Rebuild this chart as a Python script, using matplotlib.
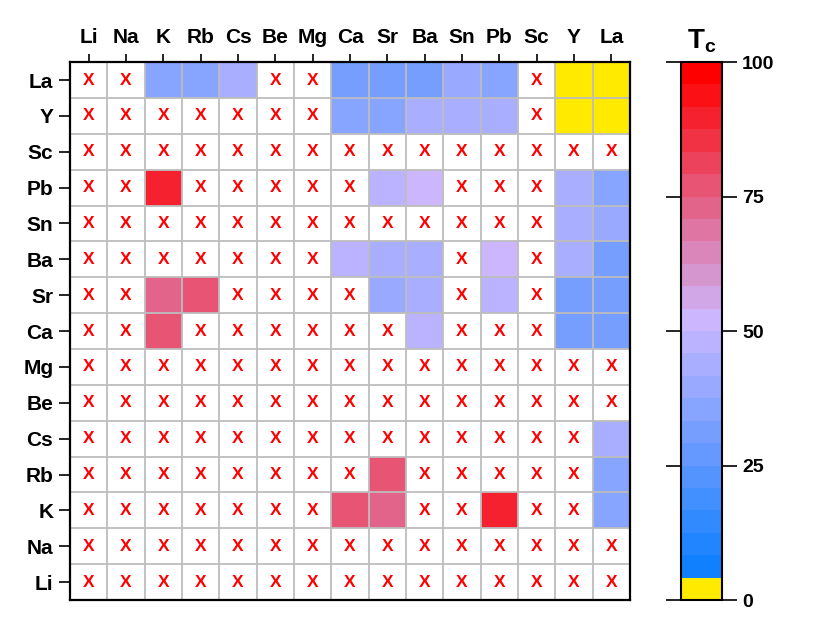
import numpy as np
import matplotlib
matplotlib.use("Agg")
import matplotlib.pyplot as plt
from matplotlib.colors import LinearSegmentedColormap, ListedColormap, BoundaryNorm

plt.rcParams['font.family'] = ['Liberation Sans', 'DejaVu Sans']
plt.rcParams['mathtext.fontset'] = 'custom'
plt.rcParams['mathtext.rm'] = 'Liberation Sans'
plt.rcParams['mathtext.bf'] = 'Liberation Sans:bold'

elements = ['Li', 'Na', 'K', 'Rb', 'Cs', 'Be', 'Mg', 'Ca', 'Sr', 'Ba',
            'Sn', 'Pb', 'Sc', 'Y', 'La']

n = np.nan
# Tc values, rows listed top (La) to bottom (Li), columns Li..La; nan = no data (X)
tc_rows = {
    'La': [n, n, 35, 35, 44, n, n, 31, 31, 31, 40, 35, n, 2, 2],
    'Y':  [n, n, n, n, n, n, n, 35, 35, 44, 44, 44, n, 2, 2],
    'Sc': [n, n, n, n, n, n, n, n, n, n, n, n, n, n, n],
    'Pb': [n, n, 89, n, n, n, n, n, 48, 52, n, n, n, 44, 35],
    'Sn': [n, n, n, n, n, n, n, n, n, n, n, n, n, 44, 40],
    'Ba': [n, n, n, n, n, n, n, 48, 44, 44, n, 52, n, 44, 31],
    'Sr': [n, n, 73, 77, n, n, n, n, 40, 44, n, 48, n, 31, 31],
    'Ca': [n, n, 77, n, n, n, n, n, n, 48, n, n, n, 31, 31],
    'Mg': [n, n, n, n, n, n, n, n, n, n, n, n, n, n, n],
    'Be': [n, n, n, n, n, n, n, n, n, n, n, n, n, n, n],
    'Cs': [n, n, n, n, n, n, n, n, n, n, n, n, n, n, 44],
    'Rb': [n, n, n, n, n, n, n, n, 77, n, n, n, n, n, 35],
    'K':  [n, n, n, n, n, n, n, 77, 73, n, n, 89, n, n, 35],
    'Na': [n, n, n, n, n, n, n, n, n, n, n, n, n, n, n],
    'Li': [n, n, n, n, n, n, n, n, n, n, n, n, n, n, n],
}
cbar_ticks = [0, 25, 50, 75, 100]

# grid: row index 0 = Li (bottom)
Z = np.array([tc_rows[e] for e in elements])

# 24 discrete levels: yellow for the lowest, then blue -> lavender -> red
base = LinearSegmentedColormap.from_list('tc', ['#1080ff', '#ccb8ff', '#ff0000'])
colors = ['#ffea00'] + [base(i / 22) for i in range(23)]
cmap = ListedColormap(colors)
bounds = np.linspace(0, 100, 25)
norm = BoundaryNorm(bounds, cmap.N)

fig = plt.figure(figsize=(8.17, 6.27), dpi=100)
ax = fig.add_axes([0.0857, 0.043, 0.6854, 0.858])
cax = fig.add_axes([0.8335, 0.043, 0.0502, 0.858])

N = len(elements)
mesh = ax.pcolormesh(np.arange(N + 1) - 0.5, np.arange(N + 1) - 0.5,
                     np.ma.masked_invalid(Z), cmap=cmap, norm=norm)
ax.set_facecolor('white')

# grey cell borders
for k in range(N + 1):
    ax.axvline(k - 0.5, color='#bdbdbd', lw=1.3, zorder=2)
    ax.axhline(k - 0.5, color='#bdbdbd', lw=1.3, zorder=2)

# red X for missing data
for i in range(N):
    for j in range(N):
        if np.isnan(Z[i, j]):
            ax.text(j, i, 'X', color='red', fontsize=12.5, fontweight='bold',
                    ha='center', va='center', zorder=3)

ax.set_xlim(-0.5, N - 0.5)
ax.set_ylim(-0.5, N - 0.5)
ax.set_xticks(range(N))
ax.set_xticklabels(elements, fontsize=15, fontweight='bold')
ax.set_yticks(range(N))
ax.set_yticklabels(elements, fontsize=15, fontweight='bold')
ax.xaxis.tick_top()
ax.tick_params(axis='x', direction='out', length=6, width=1.2, pad=5)
ax.tick_params(axis='y', direction='out', length=8, width=1.2, pad=4)
for sp in ax.spines.values():
    sp.set_linewidth(1.6)
    sp.set_zorder(4)

cb = fig.colorbar(mesh, cax=cax, ticks=cbar_ticks)
cb.outline.set_linewidth(1.5)
cax.minorticks_off()
cax.tick_params(left=True, right=True, direction='out', length=11, width=1.2,
                labelsize=14)
for lbl in cax.get_yticklabels():
    lbl.set_fontweight('bold')
cax.set_title(r'$\mathbf{T_c}$', fontsize=20, pad=10)

fig.savefig('out.png', dpi=100)
